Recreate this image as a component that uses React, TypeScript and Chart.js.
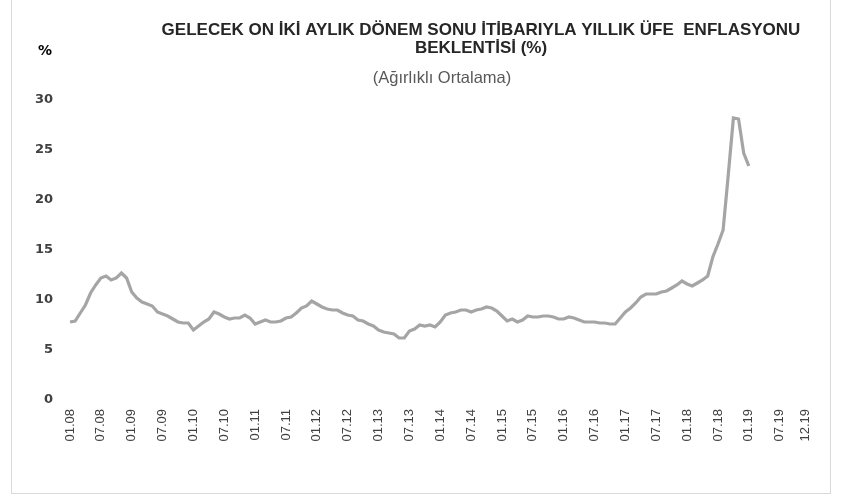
import React, { useEffect, useRef } from "react";
import { Chart, registerables } from "chart.js";

Chart.register(...registerables);

const TITLE_LINES = [
  "GELECEK ON İKİ AYLIK DÖNEM SONU İTİBARIYLA YILLIK ÜFE  ENFLASYONU",
  "BEKLENTİSİ (%)",
];
const SUBTITLE = "(Ağırlıklı Ortalama)";
const Y_UNIT = "%";

const START_YEAR = 2008;
const END_YEAR = 2019;

// Monthly category labels MM.YY from 01.08 to 12.19
const categories: string[] = [];
for (let y = START_YEAR; y <= END_YEAR; y++) {
  for (let m = 1; m <= 12; m++) {
    categories.push(String(m).padStart(2, "0") + "." + String(y % 100).padStart(2, "0"));
  }
}

// Expectation values, 01.08 .. 01.19
const expectation: number[] = [
  7.8, 7.9, 8.7, 9.5, 10.7, 11.5, 12.2, 12.4, 12.0, 12.2, 12.7, 12.2,
  10.8, 10.2, 9.8, 9.6, 9.4, 8.8, 8.6, 8.4, 8.1, 7.8, 7.7, 7.7,
  7.0, 7.4, 7.8, 8.1, 8.8, 8.6, 8.3, 8.1, 8.2, 8.2, 8.5, 8.2,
  7.6, 7.8, 8.0, 7.8, 7.8, 7.9, 8.2, 8.3, 8.7, 9.2, 9.4, 9.9,
  9.6, 9.3, 9.1, 9.0, 9.0, 8.7, 8.5, 8.4, 8.0, 7.9, 7.6, 7.4,
  7.0, 6.8, 6.7, 6.6, 6.2, 6.2, 6.9, 7.1, 7.5, 7.4, 7.5, 7.3,
  7.8, 8.5, 8.7, 8.8, 9.0, 9.0, 8.8, 9.0, 9.1, 9.3, 9.2, 8.9,
  8.4, 7.9, 8.1, 7.8, 8.0, 8.4, 8.3, 8.3, 8.4, 8.4, 8.3, 8.1,
  8.1, 8.3, 8.2, 8.0, 7.8, 7.8, 7.8, 7.7, 7.7, 7.6, 7.6, 8.2,
  8.8, 9.2, 9.7, 10.3, 10.6, 10.6, 10.6, 10.8, 10.9, 11.2, 11.5, 11.9,
  11.6, 11.4, 11.7, 12.0, 12.4, 14.3, 15.6, 17.0, 22.5, 28.2, 28.1, 24.7,
  23.4,
];

const Y_MIN = 0;
const Y_MAX = 30;
const Y_STEP = 5;
const LABEL_EVERY = 6;

const textPlugin = {
  id: "textPlugin",
  afterDraw(chart: any) {
    const ctx = chart.ctx;
    ctx.save();
    ctx.textAlign = "center";
    ctx.textBaseline = "middle";
    ctx.fillStyle = "#262626";
    ctx.font = "bold 17px 'Liberation Sans', Arial, sans-serif";
    ctx.fillText(TITLE_LINES[0], 469, 30);
    ctx.fillText(TITLE_LINES[1], 469, 48);
    ctx.fillStyle = "#595959";
    ctx.font = "16.5px 'Liberation Sans', Arial, sans-serif";
    ctx.fillText(SUBTITLE, 430, 78);
    ctx.fillStyle = "#000000";
    ctx.font = "bold 14px 'DejaVu Sans', sans-serif";
    ctx.fillText(Y_UNIT, 33, 51);
    ctx.restore();
  },
};

export default function App() {
  const canvasRef = useRef<HTMLCanvasElement | null>(null);

  useEffect(() => {
    if (!canvasRef.current) return;
    const data = categories.map((_, i) => (i < expectation.length ? expectation[i] : null));
    const chart = new Chart(canvasRef.current, {
      type: "line",
      data: {
        labels: categories,
        datasets: [
          {
            data,
            borderColor: "#a5a5a5",
            borderWidth: 3.2,
            pointRadius: 0,
            tension: 0,
            fill: false,
          },
        ],
      },
      options: {
        animation: false,
        responsive: true,
        maintainAspectRatio: false,
        layout: { padding: { top: 100, right: 20, bottom: 0, left: 0 } },
        plugins: {
          legend: { display: false },
          tooltip: { enabled: false },
          title: { display: false },
        },
        scales: {
          x: {
            type: "category",
            offset: false,
            grid: { display: false, drawTicks: false },
            border: { display: false },
            afterFit(scale: any) {
              scale.height = 93;
            },
            ticks: {
              autoSkip: false,
              maxRotation: 90,
              minRotation: 90,
              padding: 9,
              color: "#404040",
              font: { family: "'Liberation Sans', Arial, sans-serif", size: 13 },
              callback: (_v: any, index: number) =>
                index % LABEL_EVERY === 0 || index === categories.length - 1
                  ? categories[index]
                  : null,
            },
          },
          y: {
            min: Y_MIN,
            max: Y_MAX,
            grid: { display: false, drawTicks: false },
            border: { display: false },
            afterFit(scale: any) {
              scale.width = 58;
            },
            ticks: {
              stepSize: Y_STEP,
              padding: 17,
              color: "#404040",
              font: { family: "'DejaVu Sans', sans-serif", size: 13, weight: "bold" },
            },
          },
        },
      },
      plugins: [textPlugin],
    });
    return () => chart.destroy();
  }, []);

  return (
    <div
      style={{
        position: "absolute",
        left: 11,
        top: 0,
        width: 820,
        height: 494,
        boxSizing: "border-box",
        borderLeft: "1px solid #d9d9d9",
        borderRight: "1px solid #d9d9d9",
        borderBottom: "1px solid #d9d9d9",
        background: "#ffffff",
      }}
    >
      <canvas ref={canvasRef} style={{ display: "block" }} />
    </div>
  );
}
